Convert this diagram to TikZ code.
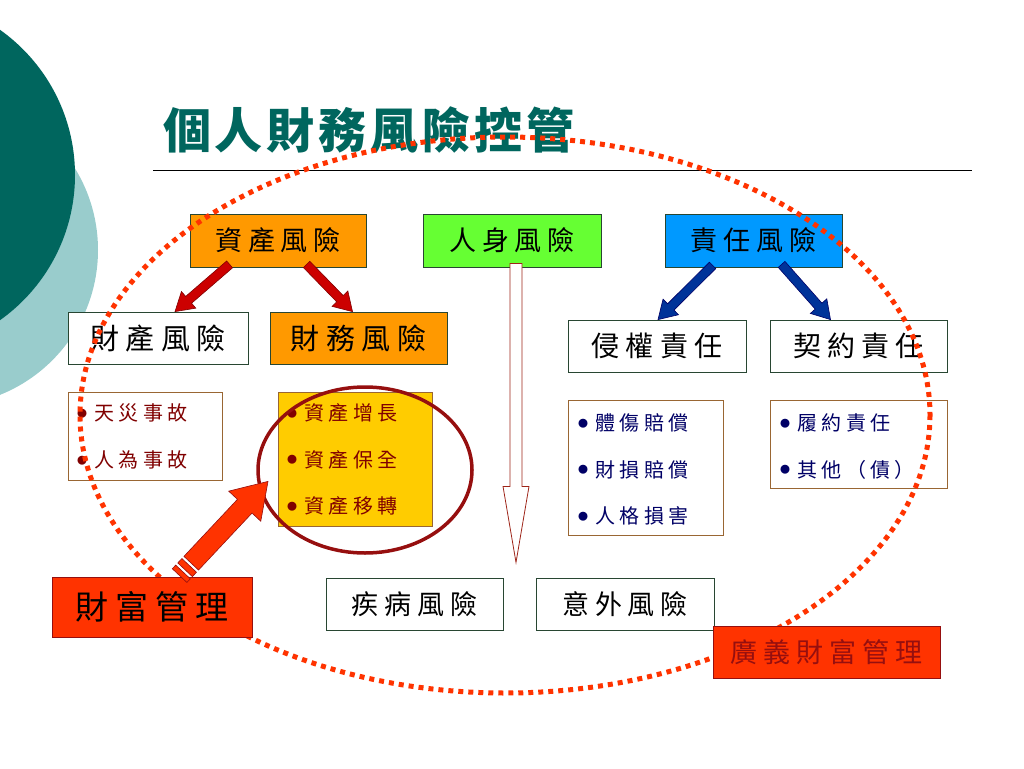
\documentclass[tikz,border=0pt]{standalone}
\usepackage{fontspec}
\setmainfont{Noto Sans CJK TC}
\newfontfamily\cjksp[LetterSpace=22]{Noto Sans CJK TC}
\newfontfamily\titlefont[LetterSpace=8]{Noto Sans CJK TC}
\usetikzlibrary{calc}

\definecolor{tealdark}{RGB}{0,102,94}
\definecolor{teallight}{RGB}{153,204,204}
\definecolor{zcorange}{RGB}{255,153,0}
\definecolor{rsgreen}{RGB}{102,255,51}
\definecolor{zrblue}{RGB}{0,153,255}
\definecolor{wmred}{RGB}{255,51,0}
\definecolor{listyellow}{RGB}{255,204,0}
\definecolor{darkred}{RGB}{128,0,0}
\definecolor{navytext}{RGB}{0,0,102}
\definecolor{boxline}{RGB}{40,70,50}
\definecolor{listline}{RGB}{153,102,51}
\definecolor{ringred}{RGB}{150,15,15}
\definecolor{arrowred}{RGB}{204,0,0}
\definecolor{arrowblue}{RGB}{0,51,153}

% list bullet
\newcommand\bul{\makebox[17pt][l]{\raisebox{3.5pt}{\normalfont\fontsize{10}{10}\selectfont ●}}}
% block arrow: style, from, to, shaft half width, head half width, head length
\newcommand\blockarrow[6]{%
  \coordinate (ba-h) at ($(#3)!#6!(#2)$);
  \filldraw[#1] ($(#2)!#4!90:(#3)$) -- ($(ba-h)!#4!90:(#3)$) -- ($(ba-h)!#5!90:(#3)$) -- (#3)
    -- ($(ba-h)!#5!-90:(#3)$) -- ($(ba-h)!#4!-90:(#3)$) -- ($(#2)!#4!-90:(#3)$) -- cycle;}
% band of a striped arrow tail: style, from, to, half width
\newcommand\blockband[4]{%
  \filldraw[#1] ($(#2)!#4!90:(#3)$) -- ($(#3)!#4!-90:(#2)$) -- ($(#3)!#4!90:(#2)$)
    -- ($(#2)!#4!-90:(#3)$) -- cycle;}

\begin{document}
\begin{tikzpicture}[x=1pt,y=-1pt,
  box/.style={draw=boxline, line width=0.8pt, inner sep=0pt, fill=white,
    minimum width=177pt, minimum height=52pt, font=\cjksp\fontsize{27}{30}\selectfont},
  listbox/.style={draw=listline, line width=0.8pt, inner sep=0pt, fill=white, anchor=north west},
  item/.style={anchor=west, inner sep=0pt, font=\cjksp\fontsize{20}{22}\selectfont},
  redarrow/.style={fill=arrowred, draw=darkred, line width=0.6pt},
  bluearrow/.style={fill=arrowblue, draw=navytext, line width=0.6pt},
  wmarrow/.style={fill=wmred, draw=ringred, line width=0.6pt}]
  \useasboundingbox (0,0) rectangle (1024,768);
  % background circles
  \fill[teallight] (-58,250) circle (156);
  \fill[tealdark] (-103,175) circle (178);
  % title
  \node[anchor=west, inner sep=0pt, text=tealdark, font=\titlefont\bfseries\fontsize{48}{52}\selectfont]
    (title) at (163,130) {個人財務風險控管};
  \draw[line width=1pt] (153,170) -- (972,170);

  % top row
  \node[box, fill=zcorange, minimum width=176pt, minimum height=53pt] (zcfx) at (278,240.5) {資產風險};
  \node[box, fill=rsgreen, minimum width=178pt, minimum height=53pt] (rsfx) at (512,240.5) {人身風險};
  \node[box, fill=zrblue, minimum width=177pt, minimum height=53pt] (zrfx) at (753.5,240.5) {責任風險};
  % second row
  \node[box, font=\cjksp\fontsize{29}{32}\selectfont, minimum width=180pt] (ccfx) at (158,338) {財產風險};
  \node[box, fill=zcorange, font=\cjksp\fontsize{29}{32}\selectfont] (cwfx) at (358.5,338) {財務風險};
  \node[box, font=\cjksp\fontsize{28}{32}\selectfont, minimum width=178pt] (qqzr) at (657,346) {侵權責任};
  \node[box, font=\cjksp\fontsize{28}{32}\selectfont] (yyzr) at (858.5,346) {契約責任};
  % bottom row
  \node[box] (jbfx) at (414.5,604) {疾病風險};
  \node[box, minimum width=178pt] (ywfx) at (625,604) {意外風險};

  % lists
  \node[listbox, minimum width=154pt, minimum height=88pt] (l1) at (68,392) {};
  \foreach \t [count=\i] in {天災事故,人為事故}
    \node[item, text=darkred] (l1-\i) at ($(l1.north west)+(9,{21+47*(\i-1)})$) {\bul\t};
  \node[listbox, fill=listyellow, minimum width=154pt, minimum height=134pt] (l2) at (278,392) {};
  \foreach \t [count=\i] in {資產增長,資產保全,資產移轉}
    \node[item, text=darkred] (l2-\i) at ($(l2.north west)+(9,{21+46.5*(\i-1)})$) {\bul\t};
  \node[listbox, minimum width=155pt, minimum height=135pt] (l3) at (568,400) {};
  \foreach \t [count=\i] in {體傷賠償,財損賠償,人格損害}
    \node[item, text=navytext] (l3-\i) at ($(l3.north west)+(10,{23+46.5*(\i-1)})$) {\bul\t};
  \node[listbox, minimum width=177pt, minimum height=88pt] (l4) at (770,400) {};
  \foreach \t [count=\i] in {履約責任,其他（債）}
    \node[item, text=navytext] (l4-\i) at ($(l4.north west)+(10,{23+46.5*(\i-1)})$) {\bul\t};

  % ring round the asset list
  \draw[ringred, line width=3.5pt] (365,470) ellipse [x radius=107, y radius=83];

  % arrows out of the top row
  \coordinate (a1s) at ($(zcfx.south west)+(40,-3)$);
  \coordinate (a1e) at ($(ccfx.north)+(17,0)$);
  \coordinate (a2s) at ($(zcfx.south west)+(117,-3)$);
  \coordinate (a2e) at ($(cwfx.north)+(-6,0)$);
  \blockarrow{redarrow}{a1s}{a1e}{4.5pt}{11pt}{18pt}
  \blockarrow{redarrow}{a2s}{a2e}{4.5pt}{11pt}{18pt}
  \coordinate (b1s) at ($(zrfx.south west)+(48,-2)$);
  \coordinate (b1e) at ($(qqzr.north)+(1,0)$);
  \coordinate (b2s) at ($(zrfx.south west)+(117,-3)$);
  \coordinate (b2e) at ($(yyzr.north)+(-28,0)$);
  \blockarrow{bluearrow}{b1s}{b1e}{4.5pt}{11pt}{18pt}
  \blockarrow{bluearrow}{b2s}{b2e}{4.5pt}{11pt}{18pt}
  \coordinate (rss) at ($(rsfx.south)+(4,-4)$);
  \coordinate (rse) at ($(rsfx.south)+(4,295)$);
  \blockarrow{fill=white, draw=ringred!80!brown, line width=0.8pt}{rss}{rse}{6pt}{13pt}{76pt}

  % dotted wide ellipse
  \draw[wmred, line width=5pt, dash pattern=on 5pt off 5pt] (505,415) ellipse [x radius=425, y radius=278];

  % wealth management boxes
  \node[box, fill=wmred, draw=ringred, minimum width=200pt, minimum height=60pt,
    font=\cjksp\fontsize{33}{36}\selectfont] (cfgl) at (152,607) {財富管理};
  \node[box, fill=wmred, draw=ringred, minimum width=227pt, text=ringred] (gycf) at (826.5,652) {廣義財富管理};

  % striped arrow into the asset list
  \coordinate (wm-t) at ($(cfgl.north west)+(128,-1)$);
  \coordinate (wm-e) at ($(l2.west)+(-10,22)$);
  \coordinate (wm-b1) at ($(wm-t)!5pt!(wm-e)$);
  \coordinate (wm-b2) at ($(wm-t)!8pt!(wm-e)$);
  \coordinate (wm-b3) at ($(wm-t)!14pt!(wm-e)$);
  \coordinate (wm-s) at ($(wm-t)!17pt!(wm-e)$);
  \blockband{wmarrow}{wm-t}{wm-b1}{10pt}
  \blockband{wmarrow}{wm-b2}{wm-b3}{10pt}
  \blockarrow{wmarrow}{wm-s}{wm-e}{10pt}{22pt}{34pt}
\end{tikzpicture}
\end{document}
